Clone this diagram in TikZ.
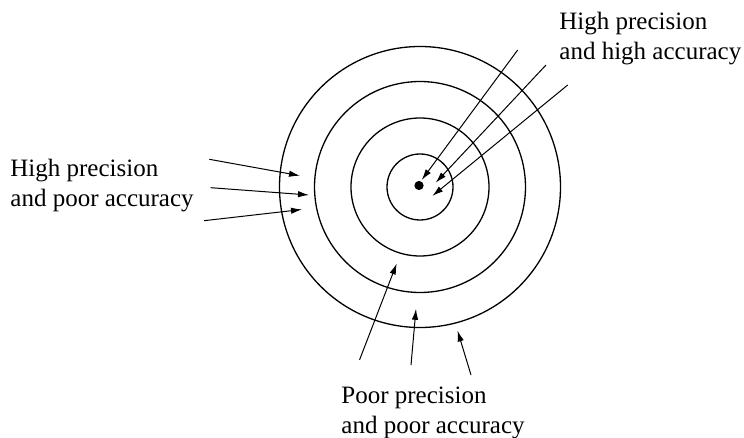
\documentclass[tikz,border=0pt]{standalone}
\usepackage{fontspec}
\setmainfont{Liberation Serif}
\usetikzlibrary{arrows.meta}

\begin{document}
\begin{tikzpicture}[x=0.5pt,y=-0.5pt,>={Latex[length=5.5pt,width=3.2pt]},font=\fontsize{12.5}{15}\selectfont]
  \tikzstyle{lbl}=[align=left,anchor=base west,inner sep=0pt]
  \tikzstyle{ring}=[line width=0.65pt]
  \tikzstyle{shot}=[->,line width=0.5pt]
  \useasboundingbox (0,0) rectangle (744,438);
  % target
  \coordinate (c) at (420,187);
  \foreach \r in {33,69,105.5,140.5} \draw[ring] (c) circle[radius=\r];
  \node[circle,fill,inner sep=0pt,minimum size=4.6pt] (bull) at (419,185.5) {};
  % labels (anchored at the baseline of the last line)
  \node[lbl] (hh) at (559,60) {High precision\\and high accuracy};
  \node[lbl] (hp) at (10,206.7) {High precision\\and poor accuracy};
  \node[lbl] (pp) at (341,433.3) {Poor precision\\and poor accuracy};
  % high precision, high accuracy
  \coordinate (hh1) at (517.7,50);  \coordinate (hh1e) at (421.7,180);
  \coordinate (hh2) at (546,65);    \coordinate (hh2e) at (435.7,182.7);
  \coordinate (hh3) at (567.7,85);  \coordinate (hh3e) at (432.3,196);
  \draw[shot] (hh1)--(hh1e); \draw[shot] (hh2)--(hh2e); \draw[shot] (hh3)--(hh3e);
  % high precision, poor accuracy
  \coordinate (hp1) at (209.3,159.3); \coordinate (hp1e) at (300,175.7);
  \coordinate (hp2) at (210.7,187.7); \coordinate (hp2e) at (309,195);
  \coordinate (hp3) at (204,220.7);   \coordinate (hp3e) at (302,209.5);
  \draw[shot] (hp1)--(hp1e); \draw[shot] (hp2)--(hp2e); \draw[shot] (hp3)--(hp3e);
  % poor precision, poor accuracy
  \coordinate (pp1) at (359.5,360); \coordinate (pp1e) at (396.7,263.5);
  \coordinate (pp2) at (411,365);   \coordinate (pp2e) at (416,308.8);
  \coordinate (pp3) at (471,375);   \coordinate (pp3e) at (457.5,330.5);
  \draw[shot] (pp1)--(pp1e); \draw[shot] (pp2)--(pp2e); \draw[shot] (pp3)--(pp3e);
\end{tikzpicture}
\end{document}
